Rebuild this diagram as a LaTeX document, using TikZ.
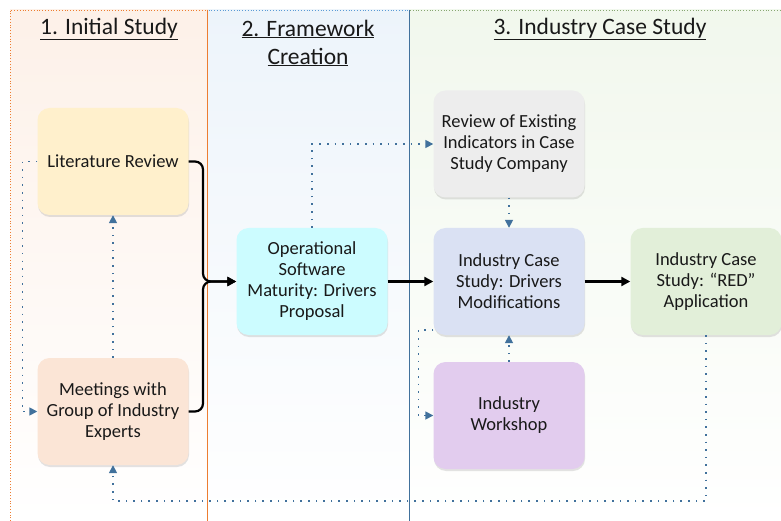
\documentclass[tikz,border=0pt]{standalone}
\usepackage{fontspec}
\setmainfont{Carlito}
\usepackage{tikz}
\usetikzlibrary{arrows.meta,shadows}

\definecolor{colOrange}{HTML}{ED7D31}
\definecolor{colBlue}{HTML}{5B9BD5}
\definecolor{colGreen}{HTML}{A9D18E}
\definecolor{linkBlue}{HTML}{41719C}
\definecolor{fillLit}{HTML}{FFF0CC}
\definecolor{fillMeet}{HTML}{FBE5D6}
\definecolor{fillOps}{HTML}{CCFCFF}
\definecolor{fillRev}{HTML}{EDEDED}
\definecolor{fillMod}{HTML}{DAE1F3}
\definecolor{fillRed}{HTML}{E2EFD9}
\definecolor{fillWork}{HTML}{E2CCEE}

\tikzset{
	stagebox/.style={rounded corners=12pt, minimum width=151pt, minimum height=107pt,
		inner sep=0pt, align=center, font=\fontsize{18.5}{21}\selectfont, text=black!90,
		drop shadow={shadow xshift=0.5pt, shadow yshift=-2pt, opacity=0.18, fill=black!60}},
	heading/.style={align=center, font=\fontsize{23.5}{28}\selectfont, text=black!90},
	flow/.style={line width=2.2pt, rounded corners=8pt, -{Triangle[length=9pt,width=9pt]}},
	link/.style={line width=1.6pt, color=linkBlue, dash pattern=on 1.6pt off 6pt,
		-{Triangle[length=8pt,width=8pt]}},
}

\begin{document}
\begin{tikzpicture}[x=1pt, y=-1pt]
			%%%%% START %%%%%
			\useasboundingbox (0, 0) rectangle (781, 521);
			
			% columns
			\shade[shading angle=20, top color=colOrange!11, middle color=white, bottom color=white] (10, 10) rectangle (208, 521);
			\shade[shading angle=20, top color=colBlue!11, middle color=white, bottom color=white] (208, 10) rectangle (409, 521);
			\shade[shading angle=20, top color=colGreen!16, middle color=white, bottom color=white] (409, 10) rectangle (781, 521);
			\draw[colOrange, dotted, line width=0.8pt] (10, 521) -- (10, 10) -- (208, 10);
			\draw[colOrange, line width=0.8pt] (207.5, 10) -- (207.5, 521);
			\draw[colBlue, dotted, line width=0.8pt] (208.5, 10) -- (409, 10);
			\draw[linkBlue, line width=0.8pt] (409.5, 10) -- (409.5, 521);
			\draw[colGreen!80!black, dotted, line width=0.8pt] (410, 10) -- (781, 10);
			
			\node[heading] (head1) at (109, 29) {\underline{1. Initial Study}};
			\node[heading] (head2) at (308, 43) {\underline{2. Framework}\\\underline{Creation}};
			\node[heading] (head3) at (600, 29) {\underline{3. Industry Case Study}};
			
			% stages
			\node[stagebox, fill=fillLit] (lit) at (113, 161.5) {Literature Review};
			\node[stagebox, fill=fillMeet] (meet) at (113, 411.5) {Meetings with\\Group of Industry\\Experts};
			\node[stagebox, fill=fillOps] (ops) at (312, 281.5) {Operational\\Software\\Maturity: Drivers\\Proposal};
			\node[stagebox, fill=fillRev] (rev) at (509, 144) {Review of Existing\\Indicators in Case\\Study Company};
			\node[stagebox, fill=fillMod] (mod) at (509, 281.5) {Industry Case\\Study: Drivers\\Modifications};
			\node[stagebox, fill=fillRed] (red) at (706, 281.5) {Industry Case\\Study: “RED”\\Application};
			\node[stagebox, fill=fillWork] (work) at (509, 415.5) {Industry\\Workshop};
			
			\coordinate (merge) at (203, 281.5);
			
			% main flow
			\draw[flow] (lit.east) -| (merge) -- (ops.west);
			\draw[flow] (meet.east) -| (merge) -- (ops.west);
			\draw[flow] (ops) -- (mod);
			\draw[flow] (mod) -- (red);
			
			% feedback
			\draw[link] (meet) -- (lit);
			\draw[link] (lit.west) -- ++(-15, 0) |- (meet.west);
			\draw[link] (ops.north) |- (rev.west);
			\draw[link] (rev) -- (mod);
			\draw[link] (work) -- (mod);
			\draw[link] ([yshift=5pt]mod.south west) -- ++(-15, 0) |- (work.west);
			\draw[link] (red.south) -- ++(0, 166) -| (meet.south);
			
			%%%%% END %%%%%
\end{tikzpicture}
\end{document}
